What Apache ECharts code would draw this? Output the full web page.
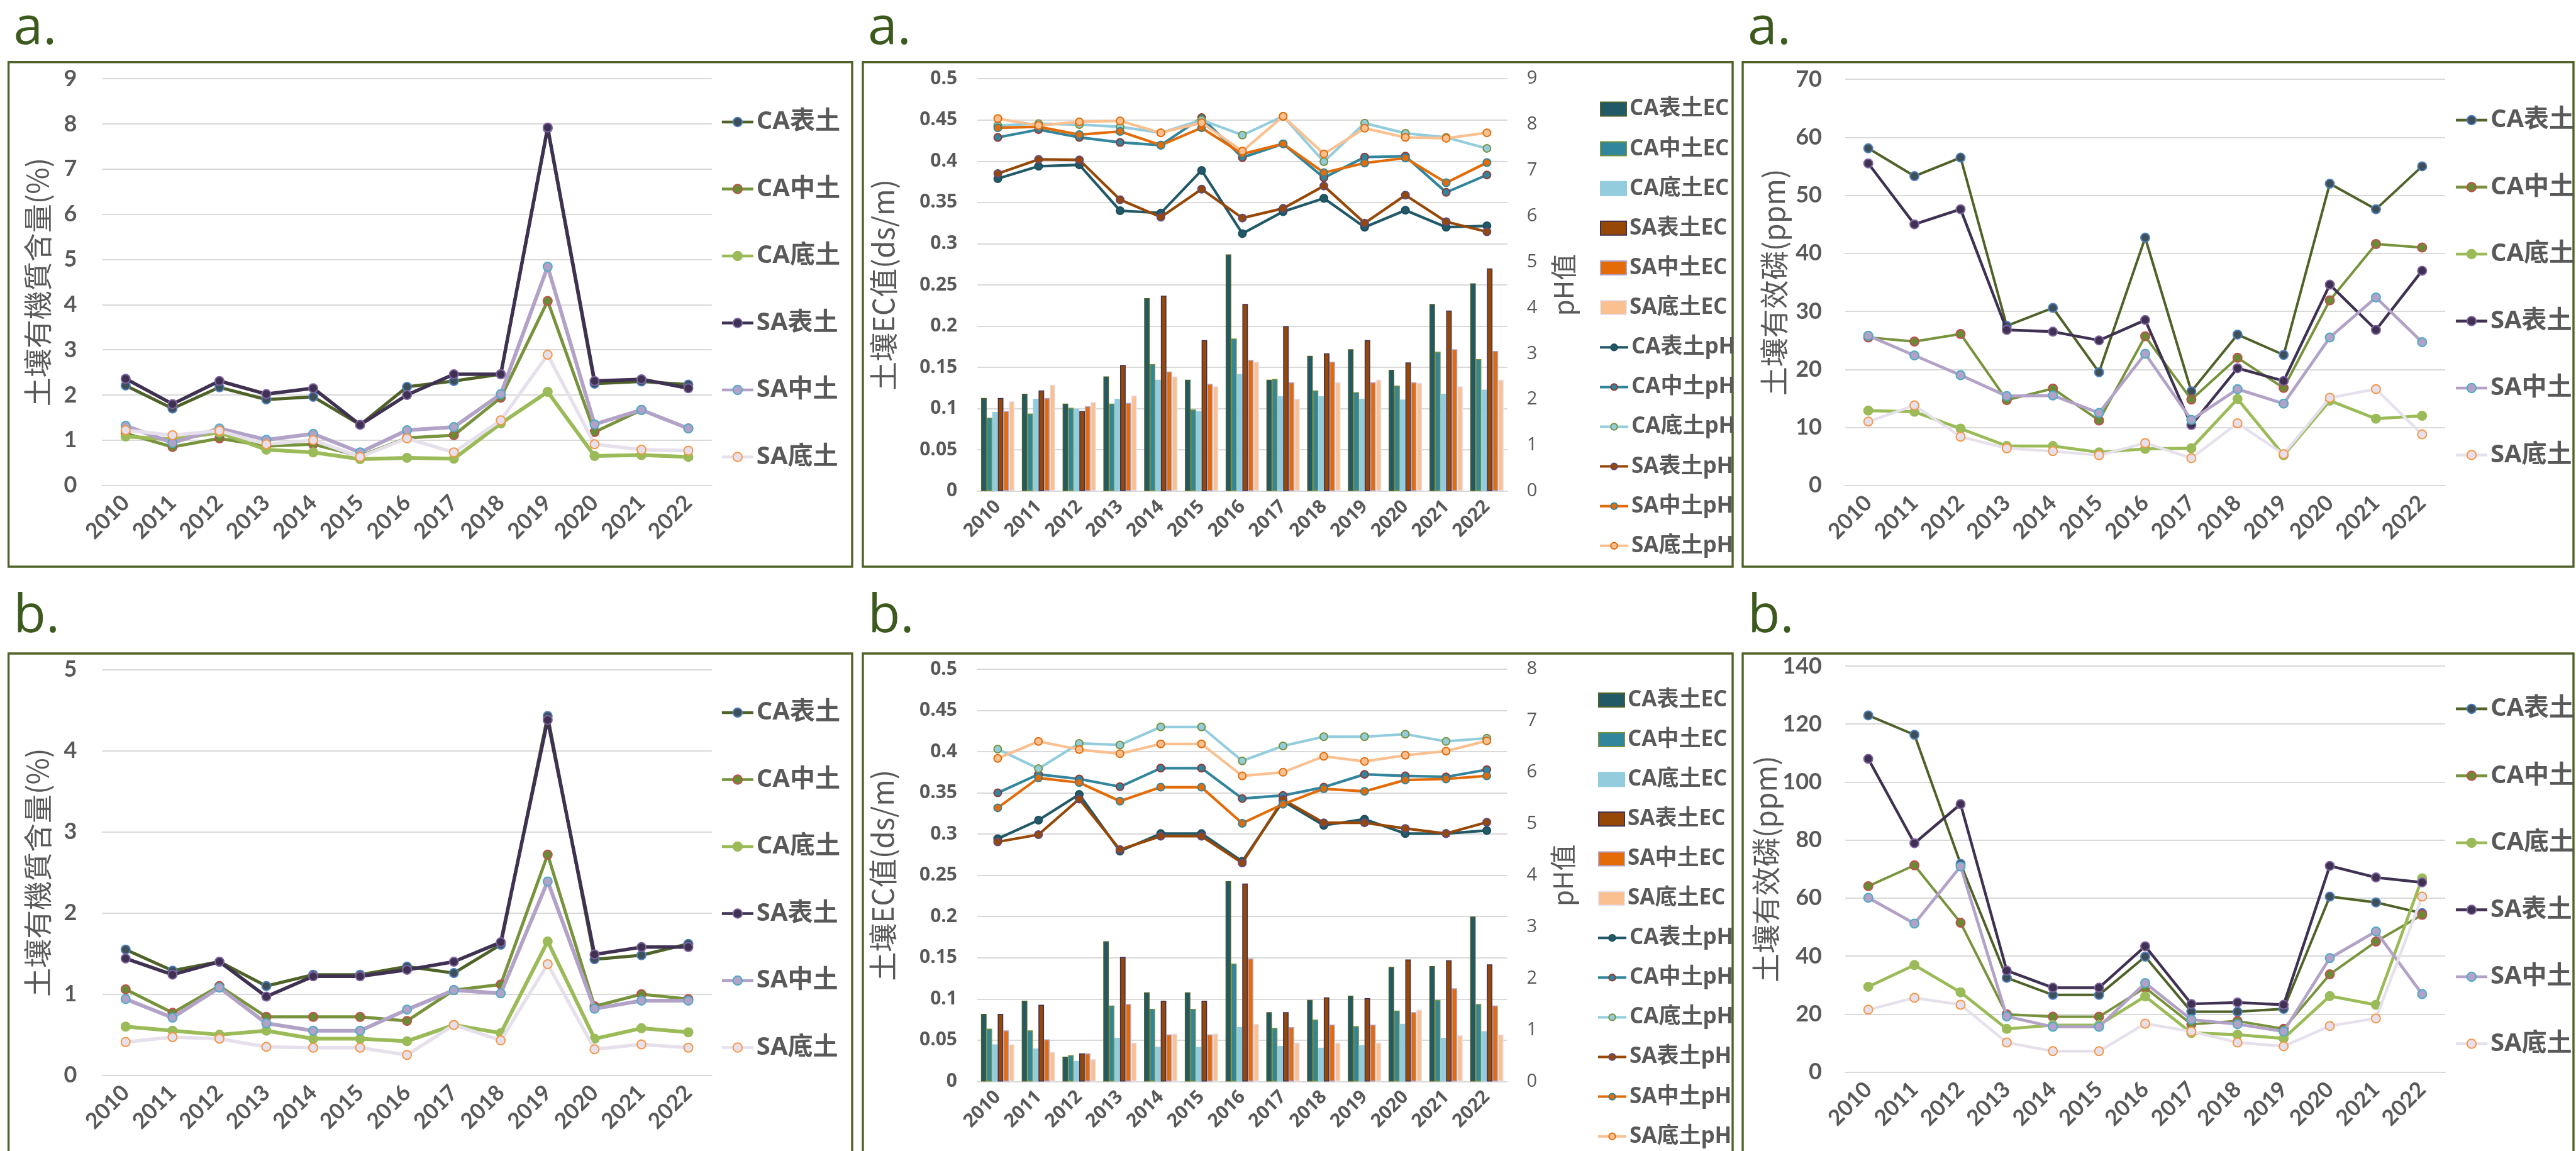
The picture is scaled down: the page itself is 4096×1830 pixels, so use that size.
<!DOCTYPE html>
<html><head><meta charset="utf-8">
<script src="https://cdn.jsdelivr.net/npm/echarts@6/dist/echarts.min.js"></script>
<style>html,body{margin:0;padding:0;background:#fff}#c{width:4096px;height:1830px}</style>
</head><body><div id="c"></div>
<script>
// ---------------- DATA ----------------
const years = ['2010','2011','2012','2013','2014','2015','2016','2017','2018','2019','2020','2021','2022'];
const layerNames = ['CA表土','CA中土','CA底土','SA表土','SA中土','SA底土'];
const ecNames = ['CA表土EC','CA中土EC','CA底土EC','SA表土EC','SA中土EC','SA底土EC'];
const phNames = ['CA表土pH','CA中土pH','CA底土pH','SA表土pH','SA中土pH','SA底土pH'];

// a. soil organic matter (%)
const omA_CAtop = [2.21,1.70,2.17,1.90,1.96,1.34,2.18,2.31,2.46,7.90,2.25,2.30,2.23];
const omA_CAmid = [1.15,0.85,1.04,0.87,0.91,0.65,1.05,1.11,1.94,4.08,1.18,1.67,1.26];
const omA_CAbot = [1.08,1.02,1.17,0.79,0.73,0.58,0.61,0.59,1.37,2.07,0.65,0.67,0.63];
const omA_SAtop = [2.36,1.80,2.31,2.02,2.15,1.34,2.00,2.46,2.46,7.92,2.31,2.35,2.15];
const omA_SAmid = [1.32,0.94,1.26,1.01,1.14,0.73,1.22,1.29,2.02,4.84,1.35,1.67,1.26];
const omA_SAbot = [1.22,1.11,1.21,0.91,1.00,0.63,1.04,0.73,1.44,2.89,0.91,0.79,0.77];

// b. soil organic matter (%)
const omB_CAtop = [1.55,1.29,1.40,1.10,1.24,1.24,1.34,1.26,1.61,4.43,1.43,1.48,1.62];
const omB_CAmid = [1.06,0.77,1.10,0.72,0.72,0.72,0.67,1.05,1.12,2.72,0.85,1.00,0.94];
const omB_CAbot = [0.60,0.55,0.50,0.55,0.45,0.45,0.42,0.62,0.52,1.65,0.45,0.58,0.53];
const omB_SAtop = [1.44,1.24,1.40,0.97,1.22,1.22,1.30,1.40,1.64,4.38,1.49,1.58,1.58];
const omB_SAmid = [0.94,0.71,1.08,0.64,0.55,0.55,0.81,1.05,1.01,2.39,0.82,0.92,0.92];
const omB_SAbot = [0.41,0.47,0.45,0.35,0.34,0.34,0.25,0.62,0.43,1.37,0.32,0.38,0.34];

// a. available phosphorus (ppm)
const pA_CAtop = [58.1,53.3,56.5,27.5,30.6,19.5,42.7,16.2,26.0,22.5,52.0,47.6,55.0];
const pA_CAmid = [25.5,24.8,26.1,14.7,16.7,11.2,25.7,14.8,22.0,16.8,31.9,41.6,41.0];
const pA_CAbot = [12.9,12.7,9.8,6.8,6.8,5.7,6.3,6.4,14.9,5.2,14.6,11.5,12.0];
const pA_SAtop = [55.5,45.0,47.6,26.8,26.5,25.0,28.5,10.4,20.2,18.0,34.6,26.8,37.0];
const pA_SAmid = [25.8,22.4,19.0,15.4,15.5,12.5,22.7,11.3,16.6,14.1,25.5,32.4,24.7];
const pA_SAbot = [11.0,13.8,8.4,6.4,5.9,5.2,7.3,4.7,10.7,5.4,15.1,16.6,8.8];

// b. available phosphorus (ppm)
const pB_CAtop = [123.0,116.3,71.8,32.5,26.6,26.6,39.8,20.8,20.8,21.8,60.5,58.5,54.8];
const pB_CAmid = [64.1,71.3,51.5,19.9,19.1,19.1,29.1,16.5,17.6,14.9,33.7,45.0,54.2];
const pB_CAbot = [29.4,36.9,27.5,14.9,16.2,16.2,26.1,13.5,12.9,11.6,26.2,23.2,66.8];
const pB_SAtop = [108.0,78.9,92.4,35.0,29.1,29.1,43.4,23.5,24.0,23.2,71.1,67.1,65.4];
const pB_SAmid = [60.1,51.2,70.9,19.2,15.6,15.6,30.7,18.1,16.5,14.0,39.3,48.5,26.9];
const pB_SAbot = [21.5,25.6,23.2,10.2,7.2,7.2,16.7,14.0,10.2,8.9,15.9,18.5,60.5];

// a. EC (ds/m)
const ecA_CAtop = [0.113,0.118,0.106,0.139,0.234,0.135,0.287,0.135,0.164,0.172,0.147,0.227,0.252];
const ecA_CAmid = [0.089,0.094,0.101,0.106,0.154,0.099,0.185,0.136,0.122,0.120,0.128,0.169,0.160];
const ecA_CAbot = [0.096,0.112,0.100,0.112,0.135,0.097,0.142,0.115,0.115,0.112,0.111,0.118,0.123];
const ecA_SAtop = [0.113,0.122,0.097,0.153,0.237,0.183,0.227,0.200,0.167,0.183,0.156,0.219,0.270];
const ecA_SAmid = [0.097,0.113,0.103,0.107,0.145,0.130,0.159,0.132,0.157,0.132,0.132,0.172,0.170];
const ecA_SAbot = [0.109,0.129,0.108,0.116,0.139,0.127,0.157,0.112,0.132,0.135,0.131,0.127,0.135];
// a. pH
const phA_CAtop = [6.82,7.09,7.12,6.12,6.07,7.00,5.62,6.10,6.39,5.76,6.13,5.76,5.79];
const phA_CAmid = [7.72,7.89,7.72,7.61,7.55,8.15,7.28,7.58,6.84,7.29,7.31,6.52,6.90];
const phA_CAbot = [7.98,8.02,8.00,7.95,7.82,8.10,7.77,8.18,7.19,8.03,7.81,7.72,7.48];
const phA_SAtop = [6.93,7.24,7.23,6.36,5.98,6.59,5.96,6.17,6.66,5.85,6.46,5.88,5.66];
const phA_SAmid = [7.93,7.95,7.78,7.85,7.55,7.93,7.36,7.58,6.95,7.16,7.27,6.73,7.17];
const phA_SAbot = [8.13,7.98,8.06,8.08,7.82,8.04,7.42,8.18,7.36,7.92,7.72,7.70,7.82];

// b. EC (ds/m)
const ecB_CAtop = [0.082,0.098,0.030,0.170,0.108,0.108,0.243,0.084,0.099,0.104,0.139,0.140,0.200];
const ecB_CAmid = [0.064,0.062,0.032,0.092,0.088,0.088,0.143,0.065,0.075,0.067,0.086,0.099,0.094];
const ecB_CAbot = [0.045,0.040,0.025,0.053,0.042,0.042,0.066,0.043,0.041,0.044,0.070,0.053,0.061];
const ecB_SAtop = [0.082,0.093,0.034,0.151,0.098,0.098,0.240,0.084,0.102,0.101,0.148,0.147,0.142];
const ecB_SAmid = [0.062,0.051,0.034,0.094,0.057,0.057,0.149,0.066,0.069,0.069,0.084,0.113,0.092];
const ecB_SAbot = [0.045,0.036,0.027,0.047,0.058,0.058,0.070,0.047,0.047,0.047,0.087,0.056,0.057];
// b. pH
const phB_CAtop = [4.71,5.07,5.57,4.47,4.81,4.81,4.27,5.44,4.97,5.09,4.81,4.81,4.87];
const phB_CAmid = [5.60,5.96,5.87,5.72,6.08,6.08,5.49,5.55,5.71,5.96,5.93,5.91,6.05];
const phB_CAbot = [6.45,6.07,6.56,6.53,6.88,6.88,6.22,6.51,6.69,6.69,6.74,6.60,6.66];
const phB_SAtop = [4.65,4.79,5.48,4.50,4.76,4.76,4.24,5.47,5.02,5.02,4.91,4.81,5.03];
const phB_SAmid = [5.31,5.89,5.80,5.44,5.71,5.71,5.01,5.38,5.68,5.63,5.85,5.87,5.93];
const phB_SAbot = [6.27,6.60,6.44,6.36,6.55,6.55,5.93,6.00,6.31,6.21,6.33,6.41,6.61];

// ---------------- STYLE ----------------
const GRAY = '#595959', GRIDC = '#d9d9d9', FRAME = '#4f6228';
const F_CJK = '"Noto Sans CJK TC","Noto Sans CJK SC",sans-serif';
const F_OPEN = '"Open Sans","Noto Sans CJK TC",sans-serif';
const F_LATO = 'Lato,"Noto Sans CJK TC",sans-serif';

const layerStyle = [
  {line:'#4f6228', fill:'#3f4f5a', border:'#4f81bd', w:5},
  {line:'#77933c', fill:'#6b8a35', border:'#c0504d', w:5},
  {line:'#9bbb59', fill:'#9bbb59', border:'#9bbb59', w:6},
  {line:'#3f3151', fill:'#3f3151', border:'#8064a2', w:5.5},
  {line:'#b3a2c7', fill:'#b3a2c7', border:'#4bacc6', w:6},
  {line:'#e6e0ec', fill:'#e6e0ec', border:'#f79646', w:5.5}
];
const barStyle = [
  {fill:'#215967', border:'#4f6228'},
  {fill:'#31859c', border:'#77933c'},
  {fill:'#93cddd', border:'#93cddd'},
  {fill:'#974806', border:'#3f3151'},
  {fill:'#e36c09', border:'#b3a2c7'},
  {fill:'#fac090', border:'#e6e0ec'}
];
const phStyle = [
  {line:'#215967', fill:'#215967', border:'#1d4e5c', w:4.2},
  {line:'#31859c', fill:'#31859c', border:'#953735', w:4.2},
  {line:'#93cddd', fill:'#93cddd', border:'#77933c', w:4.2},
  {line:'#974806', fill:'#974806', border:'#604a7b', w:4.2},
  {line:'#e36c09', fill:'#e36c09', border:'#31859c', w:4.2},
  {line:'#fac090', fill:'#fac090', border:'#e46c0a', w:4.2}
];

const grids = [
  {left:162.5, top:125.2, width:969.3, height:646.5},   // a organic
  {left:1554.2, top:125.2, width:842.5, height:655.6},  // a EC/pH
  {left:2934, top:126, width:954, height:645.8},        // a P
  {left:162.5, top:1064.8, width:969.3, height:644.8},  // b organic
  {left:1554, top:1064, width:842.5, height:655.4},     // b EC/pH
  {left:2934, top:1059, width:954, height:645.5}        // b P
];

function xAx(gi, font, size, margin){
  return {type:'category', gridIndex:gi, data:years, boundaryGap:true,
    axisLine:{show:true, lineStyle:{color:GRIDC, width:2}}, axisTick:{show:false},
    axisLabel:{interval:0, rotate:45, color:GRAY, fontFamily:font, fontWeight:'bold', fontSize:size, margin:margin}};
}
function yAx(gi, min, max, interval, name, nameGap, labelFont, labelSize, labelMargin, extra){
  return Object.assign({type:'value', gridIndex:gi, min:min, max:max, interval:interval,
    name:name, nameLocation:'middle', nameRotate:90, nameGap:nameGap,
    nameTextStyle:{fontFamily:F_CJK, fontSize:46, color:GRAY},
    axisLine:{show:false}, axisTick:{show:false},
    axisLabel:{color:GRAY, fontFamily:labelFont, fontWeight:'bold', fontSize:labelSize, margin:labelMargin},
    splitLine:{show:true, lineStyle:{color:GRIDC, width:2}}}, extra||{});
}
function lineSeries(names, datas, styles, xi, yi, sym, wScale){
  return datas.map((d,i)=>({type:'line', name:names[i], xAxisIndex:xi, yAxisIndex:yi, data:d,
    symbol:'circle', symbolSize:sym, showSymbol:true, animation:false,
    lineStyle:{color:styles[i].line, width:(styles[i].w||4)*(wScale||1)},
    itemStyle:{color:styles[i].fill, borderColor:styles[i].border, borderWidth:2},
    z:5+i, emphasis:{disabled:true}}));
}
function barSeries(names, datas, xi, yi){
  return datas.map((d,i)=>({type:'bar', name:names[i], xAxisIndex:xi, yAxisIndex:yi, data:d,
    barGap:'0%', barCategoryGap:'18%', animation:false,
    itemStyle:{color:barStyle[i].fill, borderColor:barStyle[i].border, borderWidth:1.5},
    z:2, emphasis:{disabled:true}}));
}
function layerLegend(left, top){
  return {orient:'vertical', left:left, top:top, itemWidth:50, itemHeight:18, itemGap:62.5,
    selectedMode:false,
    textStyle:{fontFamily:F_OPEN, fontWeight:'bold', fontSize:40, lineHeight:44, color:GRAY},
    data: layerNames.map((n,i)=>({name:n,
      itemStyle:{color:layerStyle[i].fill, borderColor:layerStyle[i].border, borderWidth:2},
      lineStyle:{color:layerStyle[i].line, width:4.5}}))};
}
function ecLegend(left, top){
  return {orient:'vertical', left:left, top:top, itemWidth:41, itemHeight:22, itemGap:27.1,
    selectedMode:false, icon:'rect',
    textStyle:{fontFamily:F_OPEN, fontWeight:'bold', fontSize:35, lineHeight:36, color:GRAY},
    data: ecNames.map((n,i)=>({name:n, itemStyle:{color:barStyle[i].fill, borderColor:barStyle[i].border, borderWidth:2}}))};
}
function phLegend(left, top){
  return {orient:'vertical', left:left, top:top, itemWidth:45, itemHeight:13, itemGap:27.1,
    selectedMode:false,
    textStyle:{fontFamily:F_OPEN, fontWeight:'bold', fontSize:35, lineHeight:36, color:GRAY},
    data: phNames.map((n,i)=>({name:n,
      itemStyle:{color:phStyle[i].fill, borderColor:phStyle[i].border, borderWidth:2},
      lineStyle:{color:phStyle[i].line, width:4}}))};
}
const ecTick = v => String(+v.toFixed(2));

const xAxes = [
  xAx(0, F_LATO, 35, 22), xAx(1, F_OPEN, 30, 20), xAx(2, F_LATO, 35, 22),
  xAx(3, F_LATO, 35, 22), xAx(4, F_OPEN, 30, 20), xAx(5, F_LATO, 35, 22)
];
const phRight = (gi, max) => ({type:'value', gridIndex:gi, position:'right', min:0, max:max, interval:1,
  name:'pH值', nameLocation:'middle', nameRotate:90, nameGap:68,
  nameTextStyle:{fontFamily:F_CJK, fontSize:42, color:GRAY},
  axisLine:{show:false}, axisTick:{show:false}, splitLine:{show:false},
  axisLabel:{color:GRAY, fontFamily:F_OPEN, fontSize:29, margin:31}});
const yAxes = [
  yAx(0, 0, 9, 1, '土壤有機質含量(%)', 80, F_LATO, 36, 40),
  yAx(1, 0, 0.5, 0.05, '土壤EC值(ds/m)', 127, F_OPEN, 29, 32, {axisLabel:{color:GRAY, fontFamily:F_OPEN, fontWeight:'bold', fontSize:30, margin:32, formatter:ecTick}}),
  phRight(1, 9),
  yAx(2, 0, 70, 10, '土壤有效磷(ppm)', 90, F_LATO, 36, 37),
  yAx(3, 0, 5, 1, '土壤有機質含量(%)', 80, F_LATO, 36, 40),
  yAx(4, 0, 0.5, 0.05, '土壤EC值(ds/m)', 127, F_OPEN, 29, 32, {axisLabel:{color:GRAY, fontFamily:F_OPEN, fontWeight:'bold', fontSize:30, margin:32, formatter:ecTick}}),
  phRight(4, 8),
  yAx(5, 0, 140, 20, '土壤有效磷(ppm)', 90, F_LATO, 36, 37)
];

const series = [].concat(
  lineSeries(layerNames, [omA_CAtop,omA_CAmid,omA_CAbot,omA_SAtop,omA_SAmid,omA_SAbot], layerStyle, 0, 0, 14),
  barSeries(ecNames, [ecA_CAtop,ecA_CAmid,ecA_CAbot,ecA_SAtop,ecA_SAmid,ecA_SAbot], 1, 1),
  lineSeries(phNames, [phA_CAtop,phA_CAmid,phA_CAbot,phA_SAtop,phA_SAmid,phA_SAbot], phStyle, 1, 2, 12),
  lineSeries(layerNames, [pA_CAtop,pA_CAmid,pA_CAbot,pA_SAtop,pA_SAmid,pA_SAbot], layerStyle, 2, 3, 14, 0.8),
  lineSeries(layerNames, [omB_CAtop,omB_CAmid,omB_CAbot,omB_SAtop,omB_SAmid,omB_SAbot], layerStyle, 3, 4, 14),
  barSeries(ecNames, [ecB_CAtop,ecB_CAmid,ecB_CAbot,ecB_SAtop,ecB_SAmid,ecB_SAbot], 4, 5),
  lineSeries(phNames, [phB_CAtop,phB_CAmid,phB_CAbot,phB_SAtop,phB_SAmid,phB_SAbot], phStyle, 4, 6, 12),
  lineSeries(layerNames, [pB_CAtop,pB_CAmid,pB_CAbot,pB_SAtop,pB_SAmid,pB_SAbot], layerStyle, 5, 7, 14, 0.8)
);

const frames = [
  [13.6, 98.7, 1355, 901], [1372, 98.7, 2755, 901], [2771, 98.7, 4092, 901],
  [13.6, 1039, 1355, 1860], [1372, 1039, 2755, 1860], [2771, 1039, 4092, 1860]
];
const panelTags = ['a.','a.','a.','b.','b.','b.'];
const graphic = [];
frames.forEach((f,i)=>{
  graphic.push({type:'rect', silent:true, z:-10,
    shape:{x:f[0], y:f[1], width:f[2]-f[0], height:f[3]-f[1]},
    style:{fill:'none', stroke:FRAME, lineWidth:3.4}});
  const base = i < 3 ? 79 : 1014;
  graphic.push({type:'text', silent:true, z:10, x:f[0]+8, y:base - 0.39*84,
    style:{text:panelTags[i], fontFamily:'"Open Sans",sans-serif', fontSize:84, fill:'#3d5a1e', verticalAlign:'middle', align:'left'}});
});

const chart = echarts.init(document.getElementById('c'), null, {renderer:'canvas', width:4096, height:1830});
chart.setOption({
  animation:false,
  backgroundColor:'#ffffff',
  grid: grids,
  xAxis: xAxes,
  yAxis: yAxes,
  legend: [
    layerLegend(1140.6, 167), ecLegend(2539, 150.5), phLegend(2537, 529.3), layerLegend(3897.7, 164),
    layerLegend(1140.6, 1106), ecLegend(2536, 1090), phLegend(2534, 1468.2), layerLegend(3897.7, 1100)
  ],
  graphic: graphic,
  series: series
});
</script></body></html>
